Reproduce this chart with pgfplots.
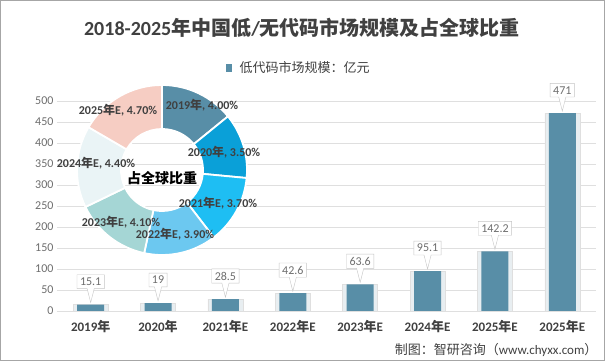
\documentclass[border=0pt]{standalone}
\usepackage{fontspec}
\setmainfont{Carlito}
\newfontfamily\cjk{Noto Sans CJK SC}
\usepackage{pgfplots}
\pgfplotsset{compat=1.18}
\usetikzlibrary{shapes.callouts}
\definecolor{barc}{RGB}{88,142,167}
\definecolor{d1}{RGB}{88,142,167}
\definecolor{d2}{RGB}{10,160,216}
\definecolor{d3}{RGB}{30,190,243}
\definecolor{d4}{RGB}{108,200,240}
\definecolor{d5}{RGB}{165,214,213}
\definecolor{d6}{RGB}{234,244,246}
\definecolor{d7}{RGB}{246,205,195}
\definecolor{txt}{RGB}{64,64,64}
\definecolor{tick}{RGB}{110,110,110}
\definecolor{ring}{RGB}{232,238,241}
\newcommand{\zh}[1]{{\cjk #1}}
\begin{document}
\begin{tikzpicture}[x=1pt,y=1pt]
\useasboundingbox (0,0) rectangle (605,361);
\fill[white] (0,0) rectangle (605,361);
\draw[gray!70, line width=1pt] (0.5,0.5) rectangle (604.5,360.5);
% title
\node[text=txt, font=\bfseries\fontsize{20}{20}\selectfont] at (302,333) {2018-2025\zh{年中国低}/\zh{无代码市场规模及占全球比重}};
% legend
\fill[barc] (226,289) rectangle (232,297);
\node[anchor=west, text=txt, font=\fontsize{13}{13}\selectfont] at (236,293) {\zh{低代码市场规模：亿元}};
% source
\node[anchor=east, text=txt, font=\fontsize{13}{13}\selectfont] at (601,11) {\zh{制图：智研咨询（}www.chyxx.com\zh{）}};
\begin{axis}[at={(57pt,50pt)}, anchor=south west, width=539pt, height=210pt, scale only axis,
  xmin=-0.5, xmax=7.5, ymin=0, ymax=500,
  ytick={0,50,...,500}, xtick={0,...,7},
  xticklabels={2019\zh{年},2020\zh{年},2021\zh{年}E,2022\zh{年}E,2023\zh{年}E,2024\zh{年}E,2025\zh{年}E,2025\zh{年}E},
  ymajorgrids, grid style={draw=gray!25, line width=0.8pt},
  axis line style={draw=none}, major tick length=0pt,
  /pgf/number format/assume math mode=true,
  yticklabel style={text=tick, font=\fontsize{12}{12}\selectfont},
  xticklabel style={text=txt, font=\bfseries\fontsize{13}{13}\selectfont, yshift=-6pt},
  clip=false]
\addplot[ybar, bar width=35pt, bar shift=0pt, fill=ring, draw=gray!25] coordinates {(0,15.1) (1,19) (2,28.5) (3,42.6) (4,63.6) (5,95.1) (6,142.2) (7,471)};
\addplot[ybar, bar width=27pt, bar shift=0pt, fill=barc, draw=none,
  nodes near coords,
  every node near coord/.append style={anchor=center, yshift=23pt, font=\fontsize{12}{12}\selectfont, text=tick,
    rectangle callout, callout relative pointer={(0pt,-14pt)}, draw=gray!45, fill=white, inner sep=3pt}]
  coordinates {(0,15.1) (1,19) (2,28.5) (3,42.6) (4,63.6) (5,95.1) (6,142.2) (7,471)};
\end{axis}
% donut
\begin{axis}[at={(162pt,191pt)}, anchor=center, width=170pt, height=170pt, scale only axis, hide axis,
  xmin=-85, xmax=85, ymin=-85, ymax=85, clip=false]
\pgfplotsextra{%
  \coordinate (O) at (axis cs:0,0);
  \gdef\acc{90}%
  \foreach \v/\col in {4.00/d1,3.50/d2,3.70/d3,3.90/d4,4.10/d5,4.40/d6,4.70/d7}{%
    \pgfmathsetmacro\b{\acc-\v/28.3*360}%
    \filldraw[fill=\col, draw=white, line width=1.8pt] ([shift={(\acc:85pt)}]O) arc[start angle=\acc, end angle=\b, radius=85pt] -- ([shift={(\b:41pt)}]O) arc[start angle=\b, end angle=\acc, radius=41pt] -- cycle;
    \xdef\acc{\b}%
  }%
}
\node[text=txt, font=\bfseries\fontsize{12}{12}\selectfont] at (axis cs:40,65) {2019\zh{年}, 4.00\%};
\node[text=txt, font=\bfseries\fontsize{12}{12}\selectfont] at (axis cs:62,18) {2020\zh{年}, 3.50\%};
\node[text=txt, font=\bfseries\fontsize{12}{12}\selectfont] at (axis cs:56,-33) {2021\zh{年}E, 3.70\%};
\node[text=txt, font=\bfseries\fontsize{12}{12}\selectfont] at (axis cs:13,-64) {2022\zh{年}E, 3.90\%};
\node[text=txt, font=\bfseries\fontsize{12}{12}\selectfont] at (axis cs:-41,-52) {2023\zh{年}E, 4.10\%};
\node[text=txt, font=\bfseries\fontsize{12}{12}\selectfont] at (axis cs:-66,7) {2024\zh{年}E, 4.40\%};
\node[text=txt, font=\bfseries\fontsize{12}{12}\selectfont] at (axis cs:-44,60) {2025\zh{年}E, 4.70\%};
\node[text=black, font=\bfseries\fontsize{14}{14}\selectfont] at (axis cs:0,-8) {\zh{占全球比重}};
\end{axis}
\end{tikzpicture}
\end{document}
